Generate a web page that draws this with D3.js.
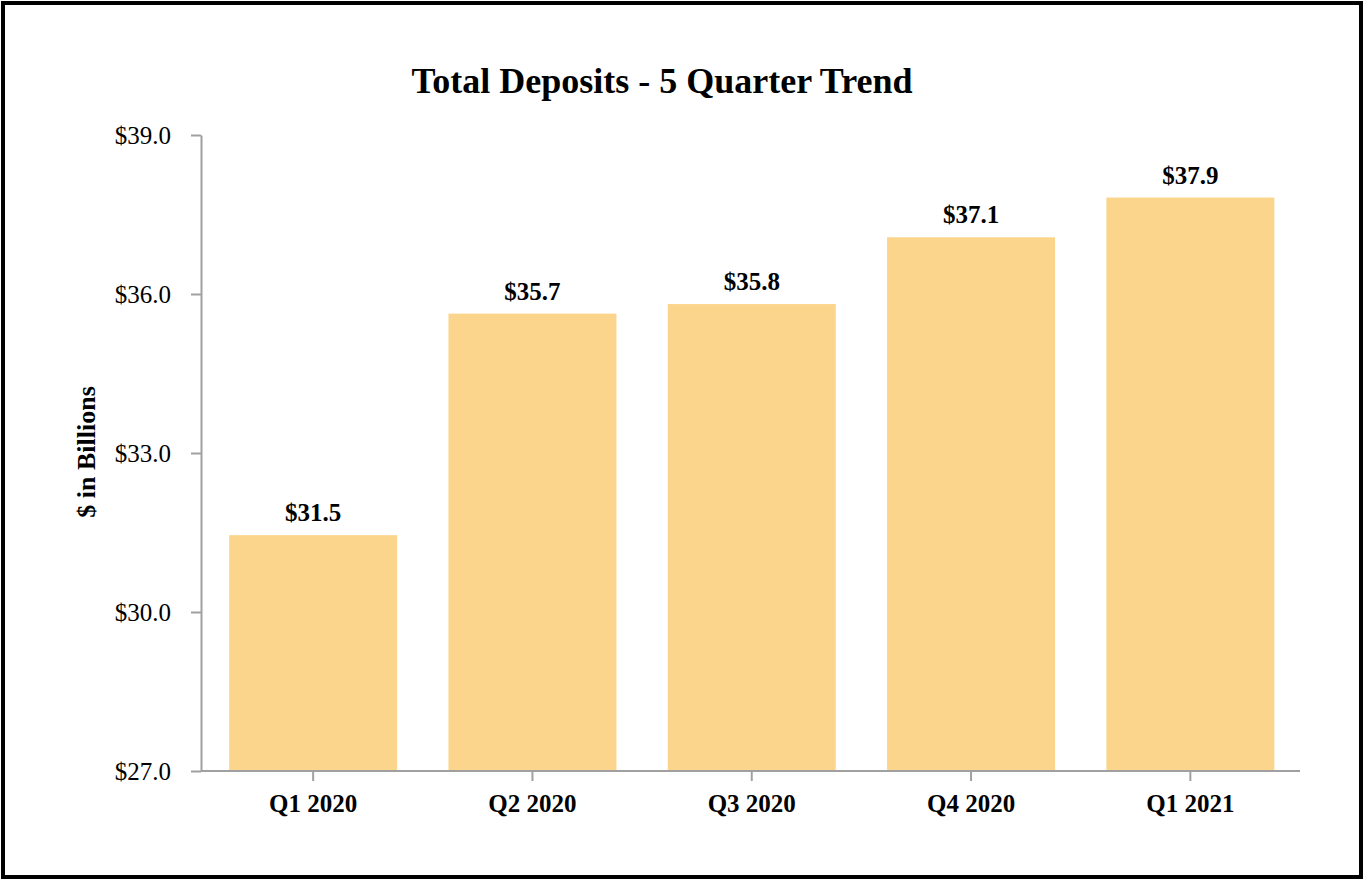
<!DOCTYPE html>
<html>
<head>
<meta charset="utf-8">
<script src="https://cdn.jsdelivr.net/npm/d3@7/dist/d3.min.js"></script>
<style>
html,body{margin:0;padding:0;background:#fff;}
svg{display:block;}
text{font-family:"Liberation Serif","Times New Roman",serif;fill:#000;}
</style>
</head>
<body>
<svg id="chart" width="1364" height="880"></svg>
<script>
const categories = ["Q1 2020", "Q2 2020", "Q3 2020", "Q4 2020", "Q1 2021"];
const values = [31.45, 35.63, 35.81, 37.07, 37.82];
const valueLabels = ["$31.5", "$35.7", "$35.8", "$37.1", "$37.9"];
const yTicks = [27, 30, 33, 36, 39];

const svg = d3.select("#chart");
const W = 1364, H = 880;
const mLeft = 201, bandLeft = 203.5, mRight = 1300, mTop = 135, mBottom = 771;

svg.append("rect").attr("x", 3).attr("y", 3).attr("width", W - 6).attr("height", H - 6)
  .attr("fill", "#fff").attr("stroke", "#000").attr("stroke-width", 4);

const x = d3.scaleBand().domain(categories).range([bandLeft, mRight])
  .paddingInner(0.234).paddingOuter(0.117);
const y = d3.scaleLinear().domain([27, 39]).range([mBottom, mTop]);

svg.append("text").attr("x", 662).attr("y", 93).attr("text-anchor", "middle")
  .style("font-size", "36px").style("font-weight", "bold")
  .text("Total Deposits - 5 Quarter Trend");

svg.append("g").selectAll("rect").data(values).join("rect")
  .attr("x", (d, i) => x(categories[i]))
  .attr("width", x.bandwidth())
  .attr("y", d => y(d))
  .attr("height", d => y(27) - y(d))
  .attr("fill", "#FCD58C");

svg.append("g").selectAll("text").data(values).join("text")
  .attr("x", (d, i) => x(categories[i]) + x.bandwidth() / 2)
  .attr("y", d => y(d) - 14)
  .attr("text-anchor", "middle")
  .style("font-size", "25px").style("font-weight", "bold")
  .text((d, i) => valueLabels[i]);

const yAxis = svg.append("g").attr("transform", `translate(${mLeft},0)`)
  .call(d3.axisLeft(y).tickValues(yTicks).tickFormat(d => "$" + d.toFixed(1)).tickSize(10).tickPadding(20).tickSizeOuter(0));
yAxis.selectAll("text").style("font-size", "25px").style("font-family", '"Liberation Serif",serif').attr("fill", "#000");

const xAxis = svg.append("g").attr("transform", `translate(0,${mBottom})`)
  .call(d3.axisBottom(x).tickSize(10).tickPadding(13).tickSizeOuter(0));
xAxis.select(".domain").attr("d", `M${mLeft},0H${mRight}`);
xAxis.selectAll("text").style("font-size", "25px").style("font-weight", "bold").style("font-family", '"Liberation Serif",serif').attr("fill", "#000");

svg.selectAll(".domain, .tick line").attr("stroke", "#a0a0a0").attr("stroke-width", 2);

svg.append("text").attr("transform", "translate(95,452) rotate(-90)")
  .attr("text-anchor", "middle")
  .style("font-size", "26px").style("font-weight", "bold")
  .text("$ in Billions");
</script>
</body>
</html>
